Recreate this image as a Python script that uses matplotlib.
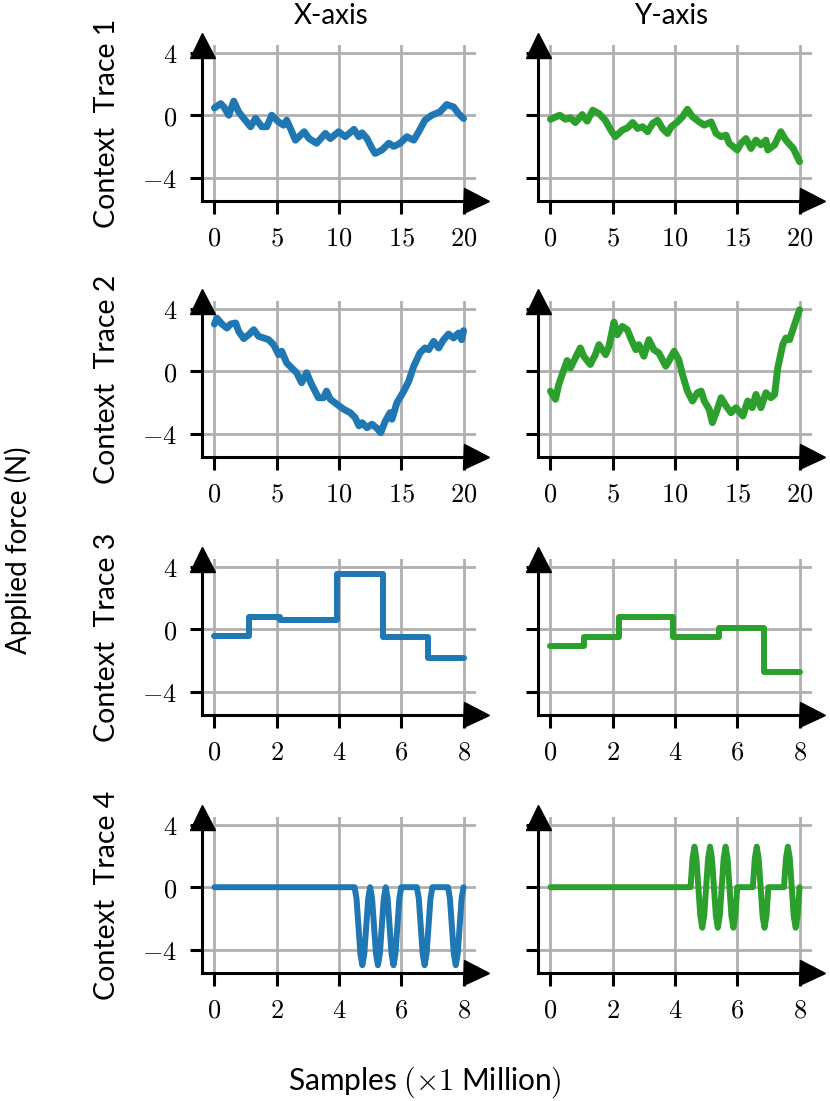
import matplotlib
matplotlib.use("Agg")
import matplotlib.pyplot as plt
from matplotlib.ticker import FuncFormatter, FixedLocator

plt.rcParams['mathtext.fontset'] = 'cm'
plt.rcParams['font.family'] = ['Lato', 'DejaVu Sans']

# ---------------- data ----------------
col_titles = ["X-axis", "Y-axis"]
row_labels = ["Context  Trace 1", "Context  Trace 2", "Context  Trace 3", "Context  Trace 4"]
colors = ["#1f77b4", "#2ca02c"]

# Trace 1 (random walk, samples x1 Million)
t1x_x = [0, 0.5, 0.75, 1.15, 1.55, 1.95, 2.35, 2.9, 3.3, 3.8, 4.2, 4.6, 5.15, 5.55, 5.8, 6.1,
         6.5, 7.2, 7.6, 8.2, 8.9, 9.3, 9.97, 10.5, 11.2, 11.6, 11.85, 12.25, 12.65, 12.9, 13.45,
         14.0, 14.4, 14.9, 15.45, 16.0, 16.4, 16.9, 17.45, 18.1, 18.65, 19.2, 19.6, 20.0]
t1x_y = [0.47, 0.74, 0.53, 0.0, 0.9, 0.2, -0.2, -0.74, -0.2, -0.74, -0.74, 0.0, -0.43, -0.64,
         -0.32, -0.85, -1.6, -1.06, -1.5, -1.8, -1.17, -1.5, -1.06, -1.38, -0.91, -1.38, -1.13,
         -1.5, -2.13, -2.45, -2.23, -1.8, -2.0, -1.8, -1.38, -1.6, -1.06, -0.32, 0.0, 0.21,
         0.68, 0.53, 0.1, -0.21]

t1y_x = [0, 0.75, 1.2, 1.6, 2.0, 2.55, 2.95, 3.4, 3.9, 4.4, 4.85, 5.2, 5.77, 6.2, 6.6, 7.0,
         7.4, 7.8, 8.2, 8.6, 9.0, 9.4, 9.7, 10.2, 10.6, 11.0, 11.4, 11.95, 12.35, 12.9, 13.3,
         13.7, 14.1, 14.35, 15.0, 15.3, 15.7, 16.1, 16.5, 16.9, 17.3, 17.45, 18.0, 18.5, 18.9,
         19.5, 20.0]
t1y_y = [-0.26, 0.0, -0.26, -0.17, -0.47, 0.04, -0.38, 0.32, 0.1, -0.32, -0.96, -1.38, -0.96,
         -0.8, -0.47, -0.85, -0.74, -1.06, -0.53, -0.32, -0.85, -1.17, -0.74, -0.43, -0.1, 0.38,
         -0.1, -0.43, -0.64, -0.43, -1.17, -1.38, -1.28, -1.8, -2.23, -1.8, -1.5, -2.13, -1.6,
         -1.9, -1.6, -2.23, -1.9, -1.06, -1.6, -2.13, -2.98]

# Trace 2 (random walk)
t2x_x = [0, 0.2, 0.6, 1.0, 1.3, 1.7, 1.95, 2.35, 2.75, 3.15, 3.55, 3.95, 4.35, 4.75, 5.15, 5.4,
         5.8, 6.2, 6.6, 7.0, 7.4, 7.8, 8.35, 8.75, 9.0, 9.3, 9.85, 10.4, 10.9, 11.3, 11.6, 11.85,
         12.25, 12.65, 13.05, 13.35, 13.7, 14.1, 14.25, 14.65, 15.2, 15.6, 16.0, 16.5, 16.9,
         17.2, 17.6, 18.0, 18.4, 18.8, 19.2, 19.6, 19.85, 20.0]
t2x_y = [3.02, 3.4, 3.02, 2.77, 3.02, 3.09, 2.55, 2.09, 2.34, 2.66, 2.23, 2.13, 2.02, 1.7, 1.06,
         1.28, 0.53, 0.21, -0.1, -0.74, -0.1, -0.85, -1.7, -1.7, -1.28, -1.8, -2.13, -2.45,
         -2.66, -2.98, -3.5, -3.3, -3.62, -3.4, -3.66, -3.94, -3.23, -2.66, -3.08, -2.02, -1.28,
         -0.64, 0.32, 1.17, 1.49, 1.38, 1.91, 1.49, 2.02, 2.38, 2.13, 2.45, 2.02, 2.6]

t2y_x = [0, 0.4, 0.67, 0.94, 1.34, 1.6, 2.0, 2.4, 2.67, 3.2, 3.6, 3.9, 4.43, 4.7, 5.1, 5.37,
         5.77, 6.17, 6.44, 6.85, 7.1, 7.5, 7.9, 8.3, 8.7, 9.26, 9.5, 9.93, 10.3, 10.6, 11.0,
         11.4, 11.8, 12.1, 12.35, 12.75, 13.0, 13.3, 13.7, 14.1, 14.5, 14.9, 15.45, 15.84, 16.2,
         16.5, 16.9, 17.3, 17.7, 18.0, 18.25, 18.65, 18.9, 19.2, 19.46, 20.0]
t2y_y = [-1.28, -1.8, -0.85, -0.21, 0.68, 0.21, 0.85, 1.49, 0.96, 0.43, 1.06, 1.7, 1.06, 1.6,
         3.15, 2.34, 2.87, 2.66, 2.13, 1.38, 1.7, 0.96, 2.02, 1.38, 1.17, 0.32, 0.64, 1.28, 0.74,
         -0.21, -1.28, -1.91, -1.38, -1.28, -1.91, -2.45, -3.3, -2.66, -1.7, -2.23, -2.66, -2.34,
         -2.87, -1.91, -2.34, -1.49, -2.34, -1.38, -1.7, -1.49, 0.21, 1.7, 2.13, 2.02, 2.66, 3.94]

# Trace 3 (piecewise constant, step 'post')
t3x_x = [0.0, 1.1, 2.12, 3.94, 5.41, 6.86, 8.0]
t3x_y = [-0.42, 0.76, 0.6, 3.57, -0.47, -1.85, -1.85]
t3y_x = [0.0, 1.07, 2.2, 3.92, 5.42, 6.87, 8.0]
t3y_y = [-1.06, -0.51, 0.76, -0.47, 0.06, -2.74, -2.74]

# Trace 4 (oscillation bursts)
t4_x = [0.0,
        4.5, 4.5625, 4.625, 4.6875, 4.75, 4.8125, 4.875, 4.9375,
        5.0, 5.0625, 5.125, 5.1875, 5.25, 5.3125, 5.375, 5.4375,
        5.5, 5.5625, 5.625, 5.6875, 5.75, 5.8125, 5.875, 5.9375,
        6.0,
        6.5, 6.5625, 6.625, 6.6875, 6.75, 6.8125, 6.875, 6.9375, 7.0,
        7.5, 7.5625, 7.625, 7.6875, 7.75, 7.8125, 7.875, 7.9375, 8.0]
t4x_y = [0.0,
         0.0, -0.73, -2.5, -4.27, -5.0, -4.27, -2.5, -0.73,
         0.0, -0.73, -2.5, -4.27, -5.0, -4.27, -2.5, -0.73,
         0.0, -0.73, -2.5, -4.27, -5.0, -4.27, -2.5, -0.73,
         0.0,
         0.0, -0.73, -2.5, -4.27, -5.0, -4.27, -2.5, -0.73, 0.0,
         0.0, -0.73, -2.5, -4.27, -5.0, -4.27, -2.5, -0.73, 0.0]
t4y_y = [0.0,
         0.0, 1.84, 2.6, 1.84, 0.0, -1.84, -2.6, -1.84,
         0.0, 1.84, 2.6, 1.84, 0.0, -1.84, -2.6, -1.84,
         0.0, 1.84, 2.6, 1.84, 0.0, -1.84, -2.6, -1.84,
         0.0,
         0.0, 1.84, 2.6, 1.84, 0.0, -1.84, -2.6, -1.84, 0.0,
         0.0, 1.84, 2.6, 1.84, 0.0, -1.84, -2.6, -1.84, 0.0]

series = [
    [(t1x_x, t1x_y, 'line'), (t1y_x, t1y_y, 'line')],
    [(t2x_x, t2x_y, 'line'), (t2y_x, t2y_y, 'line')],
    [(t3x_x, t3x_y, 'step'), (t3y_x, t3y_y, 'step')],
    [(t4_x, t4x_y, 'line'), (t4_x, t4y_y, 'line')],
]
xticks_rows = [[0, 5, 10, 15, 20], [0, 5, 10, 15, 20], [0, 2, 4, 6, 8], [0, 2, 4, 6, 8]]
xlims_rows = [(-1, 21), (-1, 21), (-0.4, 8.4), (-0.4, 8.4)]
yticks = [-4, 0, 4]
ylim = (-5.5, 4.5)

# ---------------- layout ----------------
W, H = 830, 1101
fig = plt.figure(figsize=(W / 100, H / 100), dpi=100)
col_left = [202, 538]
ax_w = 274
row_top = [45, 301, 559, 817]
ax_h = 156

fmt = FuncFormatter(lambda v, p: r'$%g$' % v)

for r in range(4):
    for c in range(2):
        ax = fig.add_axes([col_left[c] / W, 1 - (row_top[r] + ax_h) / H, ax_w / W, ax_h / H])
        xs, ys, kind = series[r][c]
        if kind == 'step':
            ax.step(xs, ys, where='post', color=colors[c], lw=4.3,
                    solid_capstyle='round', solid_joinstyle='round')
        else:
            ax.plot(xs, ys, color=colors[c], lw=5.0 if r < 2 else 4.3,
                    solid_capstyle='round', solid_joinstyle='round')
        ax.set_xlim(*xlims_rows[r])
        ax.set_ylim(*ylim)
        ax.xaxis.set_major_locator(FixedLocator(xticks_rows[r]))
        ax.yaxis.set_major_locator(FixedLocator(yticks))
        ax.xaxis.set_major_formatter(fmt)
        if c == 0:
            ax.yaxis.set_major_formatter(fmt)
        else:
            ax.yaxis.set_major_formatter(FuncFormatter(lambda v, p: ''))
        ax.grid(True, color='#b0b0b0', lw=2.0)
        ax.set_axisbelow(True)
        for s in ['top', 'right']:
            ax.spines[s].set_visible(False)
        for s in ['left', 'bottom']:
            ax.spines[s].set_linewidth(2.2)
            ax.spines[s].set_color('black')
        ax.tick_params(direction='out', length=9, width=2.2, pad=9, labelsize=19,
                       colors='black')
        ax.plot(1, 0, '>k', ms=18, transform=ax.transAxes, clip_on=False)
        ax.plot(0, 1, '^k', ms=18, transform=ax.transAxes, clip_on=False)
        if c == 0:
            fig.text(107 / W, 1 - (row_top[r] + ax_h / 2) / H, row_labels[r],
                     rotation=90, ha='center', va='center', fontsize=20.5)

fig.text(331 / W, 1 - 16 / H, col_titles[0], ha='center', va='center', fontsize=20)
fig.text(671 / W, 1 - 16 / H, col_titles[1], ha='center', va='center', fontsize=20)
fig.text(18 / W, 0.5, 'Applied force (N)', rotation=90, ha='center', va='center', fontsize=20)
fig.text(425 / W, 1 - 1082 / H, r'Samples $(\times1$ Million$)$', ha='center', va='center',
         fontsize=21.5)

fig.savefig('out.png', dpi=100)
